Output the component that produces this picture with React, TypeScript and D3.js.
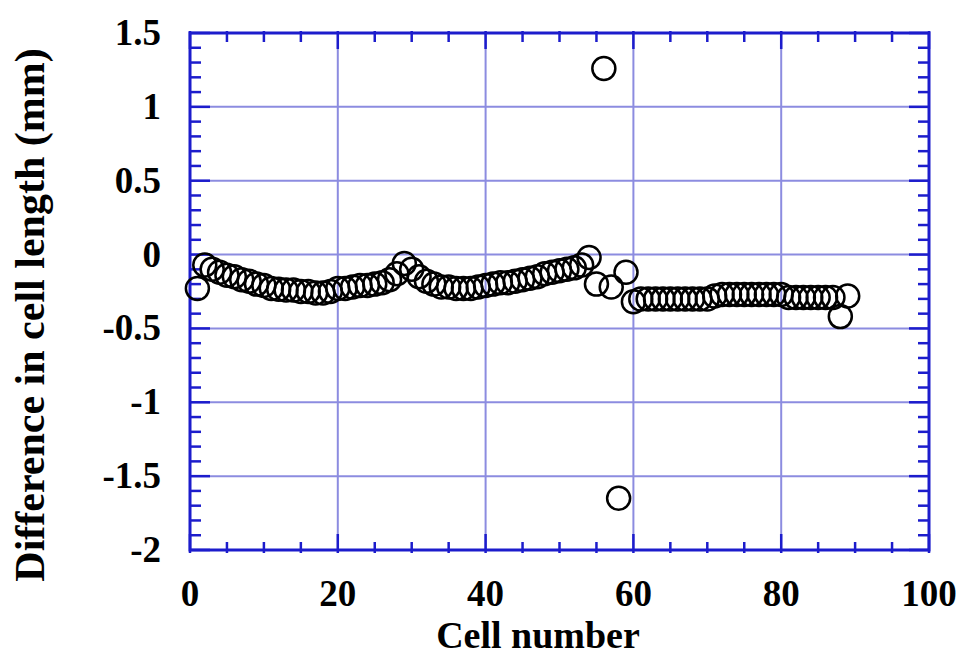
import * as React from "react";
import * as d3 from "d3";

// cell numbers 1..89 and measured difference (mm)
const cells = d3.range(1, 90);
const diffs = [
  -0.23, -0.07, -0.1, -0.12, -0.14, -0.15, -0.17, -0.18, -0.2, -0.21,
  -0.23, -0.235, -0.24, -0.24, -0.25, -0.25, -0.26, -0.26, -0.25, -0.23,
  -0.23, -0.22, -0.21, -0.21, -0.2, -0.19, -0.17, -0.13, -0.06, -0.1,
  -0.15, -0.18, -0.2, -0.22, -0.22, -0.23, -0.23, -0.23, -0.22, -0.21,
  -0.2, -0.19, -0.19, -0.18, -0.17, -0.16, -0.15, -0.13, -0.12, -0.11,
  -0.1, -0.09, -0.07, -0.02, -0.2, 1.26, -0.22, -1.65, -0.12, -0.32,
  -0.3, -0.3, -0.3, -0.3, -0.3, -0.3, -0.3, -0.3, -0.3, -0.3,
  -0.28, -0.27, -0.27, -0.27, -0.27, -0.27, -0.27, -0.27, -0.27, -0.27,
  -0.29, -0.29, -0.29, -0.29, -0.29, -0.29, -0.29, -0.42, -0.28,
];

const xTicks = [0, 20, 40, 60, 80, 100];
const yTicks = [1.5, 1, 0.5, 0, -0.5, -1, -1.5, -2];
const yTickLabels = ["1.5", "1", "0.5", "0", "-0.5", "-1", "-1.5", "-2"];

const xTitle = "Cell number";
const yTitle = "Difference in cell length (mm)";

export default function App() {
  const width = 958;
  const height = 656;
  const left = 190;
  const right = 929;
  const top = 33;
  const bottom = 550;

  const x = d3.scaleLinear().domain([0, 100]).range([left, right]);
  const y = d3.scaleLinear().domain([-2, 1.5]).range([bottom, top]);

  const axisColor = "#1c1ccc";
  const gridColor = "#8c8ce0";
  const font = "'Liberation Serif', 'Times New Roman', serif";

  const xMinor = d3.range(0, 101, 5).filter((v) => v % 20 !== 0);
  const yMinor = d3.range(-20, 16, 1).map((v) => v / 10).filter((v) => Math.abs(v * 2 - Math.round(v * 2)) > 1e-6);

  return (
    <svg width={width} height={height} style={{ position: "absolute", left: 0, top: 0, background: "#fff" }}>
      {/* grid */}
      {xTicks.slice(1, -1).map((t) => (
        <line key={"gx" + t} x1={x(t)} x2={x(t)} y1={top} y2={bottom} stroke={gridColor} strokeWidth={2} />
      ))}
      {yTicks.slice(1, -1).map((t) => (
        <line key={"gy" + t} x1={left} x2={right} y1={y(t)} y2={y(t)} stroke={gridColor} strokeWidth={2} />
      ))}

      {/* minor ticks */}
      {xMinor.map((t) => (
        <g key={"mx" + t} stroke={axisColor} strokeWidth={2.5}>
          <line x1={x(t)} x2={x(t)} y1={bottom + 3} y2={bottom - 8} />
          <line x1={x(t)} x2={x(t)} y1={top - 2} y2={top + 9} />
        </g>
      ))}
      {yMinor.map((t) => (
        <g key={"my" + t} stroke={axisColor} strokeWidth={2.5}>
          <line x1={left} x2={left + 11} y1={y(t)} y2={y(t)} />
          <line x1={right} x2={right - 11} y1={y(t)} y2={y(t)} />
        </g>
      ))}
      {/* major ticks */}
      {xTicks.map((t) => (
        <g key={"Mx" + t} stroke={axisColor} strokeWidth={2.5}>
          <line x1={x(t)} x2={x(t)} y1={bottom + 3} y2={bottom - 16} />
          <line x1={x(t)} x2={x(t)} y1={top - 2} y2={top + 16} />
        </g>
      ))}
      {yTicks.map((t) => (
        <g key={"My" + t} stroke={axisColor} strokeWidth={2.5}>
          <line x1={left} x2={left + 20} y1={y(t)} y2={y(t)} />
          <line x1={right} x2={right - 20} y1={y(t)} y2={y(t)} />
        </g>
      ))}

      {/* frame */}
      <rect x={left} y={top} width={right - left} height={bottom - top} fill="none" stroke={axisColor} strokeWidth={3} />

      {/* data */}
      {cells.map((c, i) => (
        <circle key={c} cx={x(c)} cy={y(diffs[i])} r={11.5} fill="none" stroke="#000" strokeWidth={2.5} />
      ))}

      {/* tick labels */}
      {xTicks.map((t) => (
        <text key={"lx" + t} x={x(t)} y={606} textAnchor="middle" fontFamily={font} fontWeight="bold" fontSize={37}>
          {t}
        </text>
      ))}
      {yTicks.map((t, i) => (
        <text key={"ly" + t} x={161} y={y(t) + 12} textAnchor="end" fontFamily={font} fontWeight="bold" fontSize={37}>
          {yTickLabels[i]}
        </text>
      ))}

      {/* titles */}
      <text x={538} y={648} textAnchor="middle" fontFamily={font} fontWeight="bold" fontSize={38}>
        {xTitle}
      </text>
      <text
        transform={`translate(44,${315}) rotate(-90)`}
        textAnchor="middle"
        fontFamily={font}
        fontWeight="bold"
        fontSize={42}
      >
        {yTitle}
      </text>
    </svg>
  );
}
